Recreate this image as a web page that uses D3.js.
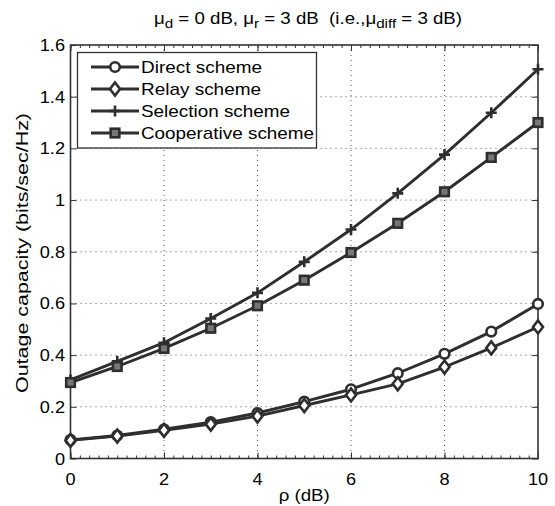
<!DOCTYPE html>
<html><head><meta charset="utf-8">
<script src="https://cdn.jsdelivr.net/npm/d3@7"></script>
<style>body{margin:0;background:#fff}svg{display:block}text{font-family:"Liberation Sans",Arial,sans-serif;fill:#000}</style>
</head><body>
<script>
const rho = [0,1,2,3,4,5,6,7,8,9,10];
const direct = [0.072,0.089,0.113,0.141,0.176,0.220,0.268,0.330,0.405,0.491,0.598];
const relay = [0.070,0.087,0.109,0.133,0.164,0.205,0.246,0.289,0.354,0.428,0.509];
const selection = [0.304,0.376,0.448,0.542,0.641,0.761,0.886,1.026,1.176,1.338,1.506];
const cooperative = [0.294,0.356,0.426,0.504,0.591,0.690,0.797,0.910,1.032,1.165,1.300];
const seriesNames = ["Direct scheme","Relay scheme","Selection scheme","Cooperative scheme"];
const markers = ["circle","diamond","plus","square"];
const xTicks = [0,2,4,6,8,10];
const yTicks = [0,0.2,0.4,0.6,0.8,1,1.2,1.4,1.6];

const W=555,H=506;
const m={l:70.5,r:538,t:45,b:458.5};
const svg=d3.select("body").append("svg").attr("width",W).attr("height",H);
const x=d3.scaleLinear().domain([0,10]).range([m.l,m.r]);
const y=d3.scaleLinear().domain([0,1.6]).range([m.b,m.t]);
const ink="#2e2e2e";
const SX=1.1;

// grid
const grid=svg.append("g").attr("stroke","#555").attr("stroke-width",1).attr("stroke-dasharray","1,4");
xTicks.slice(1,-1).forEach(v=>grid.append("line").attr("x1",x(v)).attr("x2",x(v)).attr("y1",m.t).attr("y2",m.b));
yTicks.slice(1,-1).forEach(v=>grid.append("line").attr("x1",m.l).attr("x2",m.r).attr("y1",y(v)).attr("y2",y(v)));

// axes with inward ticks
const ax=svg.append("g");
ax.append("g").attr("transform",`translate(0,${m.b})`).call(d3.axisBottom(x).tickValues(d3.range(0,10.01,0.2)).tickSizeInner(-3).tickSizeOuter(0).tickFormat(""));
ax.append("g").attr("transform",`translate(0,${m.t})`).call(d3.axisTop(x).tickValues(d3.range(0,10.01,0.2)).tickSizeInner(-3).tickSizeOuter(0).tickFormat(""));
ax.append("g").attr("transform",`translate(0,${m.b})`).call(d3.axisBottom(x).tickValues(xTicks).tickSizeInner(-6).tickSizeOuter(0).tickFormat(""));
ax.append("g").attr("transform",`translate(0,${m.t})`).call(d3.axisTop(x).tickValues(xTicks).tickSizeInner(-6).tickSizeOuter(0).tickFormat(""));
ax.append("g").attr("transform",`translate(${m.l},0)`).call(d3.axisLeft(y).tickValues(yTicks).tickSizeInner(-6).tickSizeOuter(0).tickFormat(""));
ax.append("g").attr("transform",`translate(${m.r},0)`).call(d3.axisRight(y).tickValues(yTicks).tickSizeInner(-6).tickSizeOuter(0).tickFormat(""));
ax.selectAll("path.domain").remove();
ax.selectAll("line").attr("stroke","#333").attr("stroke-width",1);
svg.append("rect").attr("x",m.l).attr("y",m.t).attr("width",m.r-m.l).attr("height",m.b-m.t)
  .attr("fill","none").attr("stroke","#333").attr("stroke-width",1.6);

// tick labels
xTicks.forEach(v=>svg.append("text").attr("transform",`translate(${x(v)},484.5) scale(${SX},1)`)
  .attr("text-anchor","middle").attr("font-size",16.5).text(d3.format("")(v)));
yTicks.forEach(v=>svg.append("text").attr("transform",`translate(65,${y(v)+6}) scale(${SX},1)`)
  .attr("text-anchor","end").attr("font-size",16.5).text(v===0?"0":d3.format(".1f")(v).replace(/\.0$/,"")));

// axis labels
svg.append("text").attr("transform",`translate(${(m.l+m.r)/2},501) scale(${SX},1)`).attr("text-anchor","middle").attr("font-size",17).text("ρ (dB)");
svg.append("text").attr("transform",`translate(28,253) rotate(-90)`).attr("text-anchor","middle").attr("font-size",17)
  .attr("textLength",280).attr("lengthAdjust","spacingAndGlyphs").text("Outage capacity (bits/sec/Hz)");

// title
const t=svg.append("text").attr("x",308).attr("y",24).attr("text-anchor","middle").attr("font-size",16)
  .attr("textLength",308).attr("lengthAdjust","spacingAndGlyphs");
t.append("tspan").text("μ");
t.append("tspan").attr("dy",4).attr("font-size",13).text("d");
t.append("tspan").attr("dy",-4).text(" = 0 dB, μ");
t.append("tspan").attr("dy",4).attr("font-size",13).text("r");
t.append("tspan").attr("dy",-4).text(" = 3 dB\u00a0 (i.e.,μ");
t.append("tspan").attr("dy",4).attr("font-size",13).text("diff");
t.append("tspan").attr("dy",-4).text(" = 3 dB)");

// marker drawer
function drawMarker(g,type,cx,cy){
  let e;
  if(type==="circle") e=g.append("circle").attr("cx",cx).attr("cy",cy).attr("r",4.8).attr("fill","#fff");
  else if(type==="diamond") e=g.append("path").attr("d",`M${cx},${cy-6.5}L${cx+5},${cy}L${cx},${cy+6.5}L${cx-5},${cy}Z`).attr("fill","#fff");
  else if(type==="plus") e=g.append("path").attr("d",`M${cx-5.5},${cy}H${cx+5.5}M${cx},${cy-5.5}V${cy+5.5}`).attr("fill","none");
  else e=g.append("rect").attr("x",cx-4.3).attr("y",cy-4.3).attr("width",8.6).attr("height",8.6).attr("fill","#777");
  e.attr("stroke",ink).attr("stroke-width",2.6);
}

const data=[direct,relay,selection,cooperative];
const line=d3.line().x((d,i)=>x(rho[i])).y(d=>y(d));
const plot=svg.append("g");
data.forEach(vals=>{
  plot.append("path").attr("d",line(vals)).attr("fill","none").attr("stroke",ink).attr("stroke-width",2.9).attr("stroke-linejoin","round");
});
data.forEach((vals,k)=>{
  const g=plot.append("g");
  vals.forEach((v,i)=>drawMarker(g,markers[k],x(rho[i]),y(v)));
});

// legend
const lg=svg.append("g");
lg.append("rect").attr("x",77.5).attr("y",52.5).attr("width",239).attr("height",95.5).attr("fill","#fff").attr("stroke","#333").attr("stroke-width",1.3);
const legendW=[121,120,149,173];
seriesNames.forEach((n,k)=>{
  const cy=67+k*22;
  lg.append("line").attr("x1",91).attr("x2",139).attr("y1",cy).attr("y2",cy).attr("stroke",ink).attr("stroke-width",2.9);
  drawMarker(lg,markers[k],115,cy);
  lg.append("text").attr("x",141).attr("y",cy+6).attr("font-size",17)
    .attr("textLength",legendW[k]).attr("lengthAdjust","spacingAndGlyphs").text(n);
});
</script>
</body></html>
